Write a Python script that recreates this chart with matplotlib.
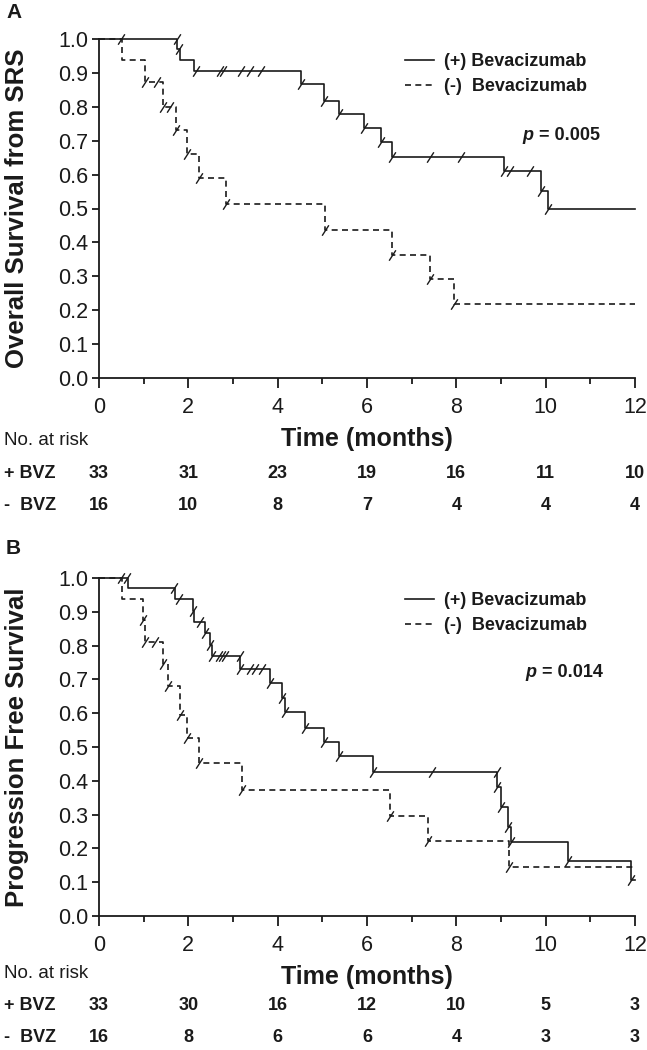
import numpy as np
import matplotlib
matplotlib.use("Agg")
import matplotlib.pyplot as plt
from matplotlib.path import Path
from matplotlib.transforms import blended_transform_factory

plt.rcParams['font.family'] = ['Liberation Sans', 'DejaVu Sans']

# ---- data ----
# A: overall survival from SRS
os_pos_t = [0, 1.75, 1.82, 2.13, 4.53, 5.03, 5.37, 5.94, 6.31, 6.56, 9.06, 9.89, 10.06, 12]
os_pos_s = [1.0, 0.970, 0.939, 0.906, 0.866, 0.817, 0.780, 0.738, 0.697, 0.653, 0.610, 0.552, 0.500, 0.500]
os_pos_cens = [1.74, 1.80, 2.17, 2.72, 2.78, 3.17, 3.39, 3.62, 4.53, 5.03, 5.37, 5.94, 6.31, 6.56,
               7.40, 8.11, 9.06, 9.20, 9.66, 9.89, 10.06]
os_neg_t = [0, 0.51, 1.03, 1.43, 1.73, 1.98, 2.23, 2.85, 5.06, 6.56, 7.40, 7.95, 12]
os_neg_s = [1.0, 0.9375, 0.873, 0.800, 0.733, 0.660, 0.591, 0.514, 0.437, 0.364, 0.291, 0.218, 0.218]
os_neg_cens = [0.50, 1.03, 1.30, 1.43, 1.60, 1.73, 1.98, 2.23, 2.85, 5.06, 6.56, 7.40, 7.95]

# B: progression free survival
pfs_pos_t = [0, 0.64, 1.70, 2.11, 2.13, 2.38, 2.49, 2.53, 3.16, 3.83, 4.10, 4.17, 4.62, 5.03, 5.37,
             6.14, 8.92, 8.99, 9.15, 9.22, 10.49, 11.92, 12]
pfs_pos_s = [1.0, 0.970, 0.937, 0.903, 0.870, 0.836, 0.803, 0.770, 0.730, 0.688, 0.645, 0.604, 0.555,
             0.516, 0.473, 0.427, 0.383, 0.323, 0.264, 0.220, 0.164, 0.107, 0.107]
pfs_pos_cens = [0.63, 1.67, 1.78, 2.11, 2.26, 2.38, 2.49, 2.53, 2.68, 2.75, 2.83, 3.15, 3.16, 3.38, 3.50,
                3.65, 3.83, 4.10, 4.17, 4.62, 5.03, 5.37, 6.14, 7.46, 8.90, 8.92, 8.99, 9.15, 9.22,
                10.49, 11.92]
pfs_neg_t = [0, 0.51, 0.99, 1.02, 1.43, 1.55, 1.82, 1.97, 2.23, 3.20, 6.52, 7.37, 9.18, 12]
pfs_neg_s = [1.0, 0.9375, 0.875, 0.810, 0.745, 0.680, 0.595, 0.526, 0.452, 0.373, 0.296, 0.222, 0.146, 0.146]
pfs_neg_cens = [0.50, 0.99, 1.02, 1.26, 1.43, 1.55, 1.82, 1.97, 2.23, 3.20, 6.52, 7.37, 9.18]

risk_times = [0, 2, 4, 6, 8, 10, 12]
os_risk_pos = [33, 31, 23, 19, 16, 11, 10]
os_risk_neg = [16, 10, 8, 7, 4, 4, 4]
pfs_risk_pos = [33, 30, 16, 12, 10, 5, 3]
pfs_risk_neg = [16, 8, 6, 6, 4, 3, 3]

labels = ['(+) Bevacizumab', '(-)  Bevacizumab']
risk_rows = ['+ BVZ', '-  BVZ']
pval_str = {'A': '0.005', 'B': '0.014'}

W, H = 647, 1050
fig = plt.figure(figsize=(W / 100, H / 100), dpi=100)

tick_mark = Path([(-0.45, -0.7), (0.45, 0.7)], [Path.MOVETO, Path.LINETO])
dash = (0, (3.6, 2.6))
ink = '#1a1a1a'


def step_at(ts, ss, c):
    idx = np.searchsorted(ts, c, side='right') - 1
    return np.asarray(ss)[idx]


def panel(top_px, bot_px, curves, ylabel, pval, risk, letter, letter_px, risk_off):
    ax = fig.add_axes([99 / W, 1 - bot_px / H, 536 / W, (bot_px - top_px) / H])
    for (t, s, c), ls, lab in zip(curves, ['-', dash], labels):
        ax.step(t, s, where='post', color=ink, lw=1.2, linestyle=ls, label=lab, clip_on=False)
        cy = step_at(np.array(t), s, np.array(c))
        ax.plot(c, cy, linestyle='none', marker=tick_mark, ms=7.5, mew=1.0,
                color=ink, clip_on=False)

    ax.set_xlim(0, 12)
    ax.set_ylim(0, 1.0)
    ax.set_xticks(np.arange(0, 13, 2))
    ax.set_xticks(np.arange(1, 12, 2), minor=True)
    ax.set_yticks(np.arange(0, 1.01, 0.1))
    ax.set_yticklabels(['%.1f' % v for v in np.arange(0, 1.01, 0.1)])
    for sp in ['top', 'right']:
        ax.spines[sp].set_visible(False)
    for sp in ['left', 'bottom']:
        ax.spines[sp].set_linewidth(1.3)
        ax.spines[sp].set_color(ink)
    ax.tick_params(axis='x', which='major', length=7, width=1.3, pad=7, labelsize=15.5, colors=ink)
    ax.tick_params(axis='x', which='minor', length=4, width=1.3, colors=ink)
    ax.tick_params(axis='y', length=5, width=1.3, pad=3, labelsize=15.5, colors=ink)

    ax.set_ylabel(ylabel, fontsize=18.5, fontweight='bold', va='center', color=ink)
    ax.yaxis.set_label_coords((17 - 99) / 536, 0.5)

    hpx = bot_px - top_px
    ax.text(0.5, -61 / hpx, 'Time (months)', transform=ax.transAxes,
            ha='center', va='center', fontsize=18, fontweight='bold', color=ink)

    leg = ax.legend(loc='upper left', bbox_to_anchor=(0.571, (hpx - 14) / hpx),
                    frameon=False, handlelength=1.6, handletextpad=0.55, labelspacing=0.45,
                    borderpad=0, borderaxespad=0, prop={'size': 13, 'weight': 'bold'})
    for txt in leg.get_texts():
        txt.set_color(ink)

    px, py = pval
    ptxt = ax.text(px, py, 'p', fontsize=13, fontweight='bold', fontstyle='italic',
                   ha='left', va='baseline', color=ink)
    ax.annotate(' = ' + pval_str[letter], xy=(1, 0), xycoords=ptxt, va='bottom',
                fontsize=13, fontweight='bold', color=ink)

    tr = blended_transform_factory(ax.transData, fig.transFigure)
    ry = [bot_px + o for o in risk_off]
    fig.text(4 / W, 1 - ry[0] / H, 'No. at risk', fontsize=13.5, va='center', ha='left', color=ink)
    for row, vals, y in zip(risk_rows, risk, ry[1:]):
        fig.text(4 / W, 1 - y / H, row, fontsize=13, fontweight='bold', va='center', ha='left',
                 color=ink)
        for xt, v in zip(risk_times, vals):
            ax.text(xt, 1 - y / H, str(v), transform=tr, fontsize=13, fontweight='bold',
                    ha='center', va='center', color=ink)

    fig.text(6 / W, 1 - letter_px / H, letter, fontsize=15, fontweight='bold', va='center',
             ha='left', color=ink)
    return ax


panel(39, 378,
      [(os_pos_t, os_pos_s, os_pos_cens), (os_neg_t, os_neg_s, os_neg_cens)],
      'Overall Survival from SRS', (9.49, 0.703), [os_risk_pos, os_risk_neg], 'A', 12,
      [62, 95, 128])
panel(578, 916,
      [(pfs_pos_t, pfs_pos_s, pfs_pos_cens), (pfs_neg_t, pfs_neg_s, pfs_neg_cens)],
      'Progression Free Survival', (9.55, 0.707), [pfs_risk_pos, pfs_risk_neg], 'B', 548,
      [58, 90, 122])

fig.savefig('out.png', dpi=100)
